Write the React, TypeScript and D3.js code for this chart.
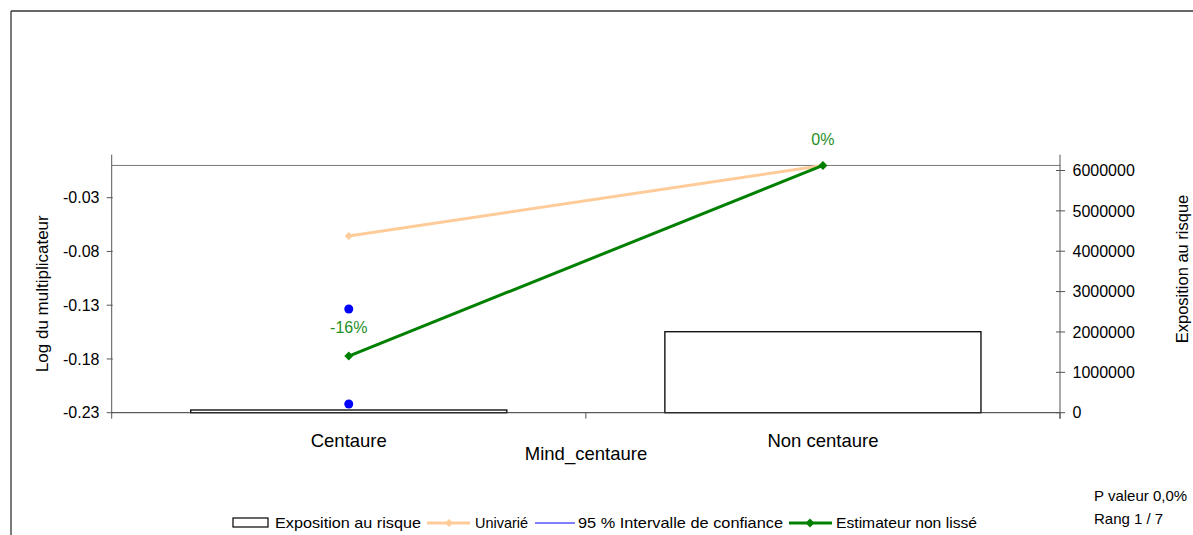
import React from "react";
import * as d3 from "d3";

const categories = ["Centaure", "Non centaure"];
const exposition = [67000, 2006000];
const univarie = [-0.0656, 0];
const estimateur = [-0.1773, 0];
const ciLow = [-0.2219, 0];
const ciHigh = [-0.1335, 0];
const estLabels = ["-16%", "0%"];
const leftTicks = [-0.23, -0.18, -0.13, -0.08, -0.03];
const rightTicks = [0, 1000000, 2000000, 3000000, 4000000, 5000000, 6000000];

const W = 1193;
const H = 535;
const FONT = "'Liberation Sans', Arial, sans-serif";

export default function App() {
  const x = d3.scaleBand<string>().domain(categories).range([111.7, 1060]).padding(0);
  const yL = d3.scaleLinear().domain([-0.23, -0.03]).range([412.7, 197.7]);
  const yR = d3.scaleLinear().domain([0, 6000000]).range([412.7, 170.5]);
  const top = yL(0.01);
  const bottom = yL(-0.23);
  const left = x.range()[0];
  const right = x.range()[1];
  const bw = x.bandwidth() / 1.5;
  const cx = (c: string) => (x(c) as number) + x.bandwidth() / 2;

  const lineGen = (vals: number[]) =>
    d3
      .line<number>()
      .x((_, i) => cx(categories[i]))
      .y((v) => yL(v))(vals) as string;

  const diamond = (px: number, py: number, r: number) =>
    `M${px},${py - r}L${px + r},${py}L${px},${py + r}L${px - r},${py}Z`;

  const legendY = 523;

  return (
    <svg
      width={W}
      height={H}
      style={{ position: "absolute", left: 0, top: 0, background: "#fff" }}
      fontFamily={FONT}
    >
      <rect x={0} y={0} width={W} height={H} fill="#fff" />
      {/* outer frame */}
      <line x1={11} y1={11} x2={W} y2={11} stroke="#333" strokeWidth={1.3} />
      <line x1={11} y1={11} x2={11} y2={H} stroke="#333" strokeWidth={1.3} />

      {/* bars */}
      {categories.map((c, i) => (
        <rect
          key={c}
          x={cx(c) - bw / 2}
          y={yR(exposition[i])}
          width={bw}
          height={bottom - yR(exposition[i])}
          fill="#fff"
          stroke="#000"
          strokeWidth={1.3}
        />
      ))}

      {/* zero line */}
      <line x1={left} y1={yL(0)} x2={right} y2={yL(0)} stroke="#777" strokeWidth={1} />

      {/* axes */}
      <line x1={left} y1={bottom} x2={right} y2={bottom} stroke="#333" strokeWidth={1} />
      <line x1={left} y1={top} x2={left} y2={bottom + 6} stroke="#555" strokeWidth={1} />
      <line x1={right} y1={top} x2={right} y2={bottom + 6} stroke="#555" strokeWidth={1} />
      {categories.map((c) => (
        <line
          key={"t" + c}
          x1={(x(c) as number) + x.bandwidth()}
          y1={bottom}
          x2={(x(c) as number) + x.bandwidth()}
          y2={bottom + 6}
          stroke="#555"
        />
      ))}
      {leftTicks.map((t) => (
        <g key={"l" + t}>
          <line x1={left - 5} x2={left + 1} y1={yL(t)} y2={yL(t)} stroke="#555" />
          <text x={99.5} y={yL(t)} dy="0.36em" textAnchor="end" fontSize={16} fill="#000">
            {t.toFixed(2)}
          </text>
        </g>
      ))}
      {rightTicks.map((t) => (
        <g key={"r" + t}>
          <line x1={right - 4} x2={right + 5} y1={yR(t)} y2={yR(t)} stroke="#555" />
          <text x={1072.5} y={yR(t)} dy="0.36em" textAnchor="start" fontSize={16} fill="#000">
            {String(t)}
          </text>
        </g>
      ))}
      {categories.map((c) => (
        <text key={"c" + c} x={cx(c)} y={447} textAnchor="middle" fontSize={18.5} fill="#000">
          {c}
        </text>
      ))}
      <text x={586} y={460} textAnchor="middle" fontSize={18.5} fill="#000">
        Mind_centaure
      </text>
      <text
        transform={`translate(48,${(top + bottom) / 2 + 10}) rotate(-90)`}
        textAnchor="middle"
        fontSize={17}
        fill="#000"
      >
        Log du multiplicateur
      </text>
      <text
        transform={`translate(1188,269) rotate(-90)`}
        textAnchor="middle"
        fontSize={16.5}
        fill="#000"
      >
        Exposition au risque
      </text>

      {/* univarie */}
      <path d={lineGen(univarie)} fill="none" stroke="#FFCC99" strokeWidth={3} />
      {univarie.map((v, i) => (
        <path key={"u" + i} d={diamond(cx(categories[i]), yL(v), 4)} fill="#FFCC99" />
      ))}
      {/* estimateur */}
      <path d={lineGen(estimateur)} fill="none" stroke="#008000" strokeWidth={3} />
      {estimateur.map((v, i) => (
        <path key={"e" + i} d={diamond(cx(categories[i]), yL(v), 4.5)} fill="#008000" />
      ))}
      {/* CI points */}
      {categories.map((c, i) =>
        i === 0 ? (
          <g key={"ci" + c}>
            <circle cx={cx(c)} cy={yL(ciLow[i])} r={4.5} fill="#0000FF" />
            <circle cx={cx(c)} cy={yL(ciHigh[i])} r={4.5} fill="#0000FF" />
          </g>
        ) : null
      )}
      {/* labels */}
      <text x={cx(categories[0])} y={327} dy="0.36em" textAnchor="middle" fontSize={16} fill="#1f8f1f">
        {estLabels[0]}
      </text>
      <text x={cx(categories[1])} y={139} dy="0.36em" textAnchor="middle" fontSize={16} fill="#1f8f1f">
        {estLabels[1]}
      </text>

      {/* legend */}
      <g fontSize={15} fill="#000">
        <rect x={233} y={518} width={35} height={9} fill="#fff" stroke="#000" strokeWidth={1.2} />
        <text x={275} y={legendY} dy="0.36em" textLength={146} lengthAdjust="spacingAndGlyphs">
          Exposition au risque
        </text>
        <line x1={427} x2={470} y1={legendY} y2={legendY} stroke="#FFCC99" strokeWidth={3} />
        <path d={diamond(449, legendY, 4)} fill="#FFCC99" />
        <text x={475} y={legendY} dy="0.36em" textLength={53} lengthAdjust="spacingAndGlyphs">
          Univarié
        </text>
        <line x1={535} x2={575} y1={legendY} y2={legendY} stroke="#0000FF" strokeWidth={1} />
        <text x={578} y={legendY} dy="0.36em" textLength={205} lengthAdjust="spacingAndGlyphs">
          95 % Intervalle de confiance
        </text>
        <line x1={789} x2={832} y1={legendY} y2={legendY} stroke="#008000" strokeWidth={3} />
        <path d={diamond(810, legendY, 4.5)} fill="#008000" />
        <text x={836} y={legendY} dy="0.36em" textLength={141} lengthAdjust="spacingAndGlyphs">
          Estimateur non lissé
        </text>
      </g>

      <text x={1094} y={501} fontSize={15} fill="#000">P valeur 0,0%</text>
      <text x={1094} y={524} fontSize={15} fill="#000">Rang 1 / 7</text>
    </svg>
  );
}
